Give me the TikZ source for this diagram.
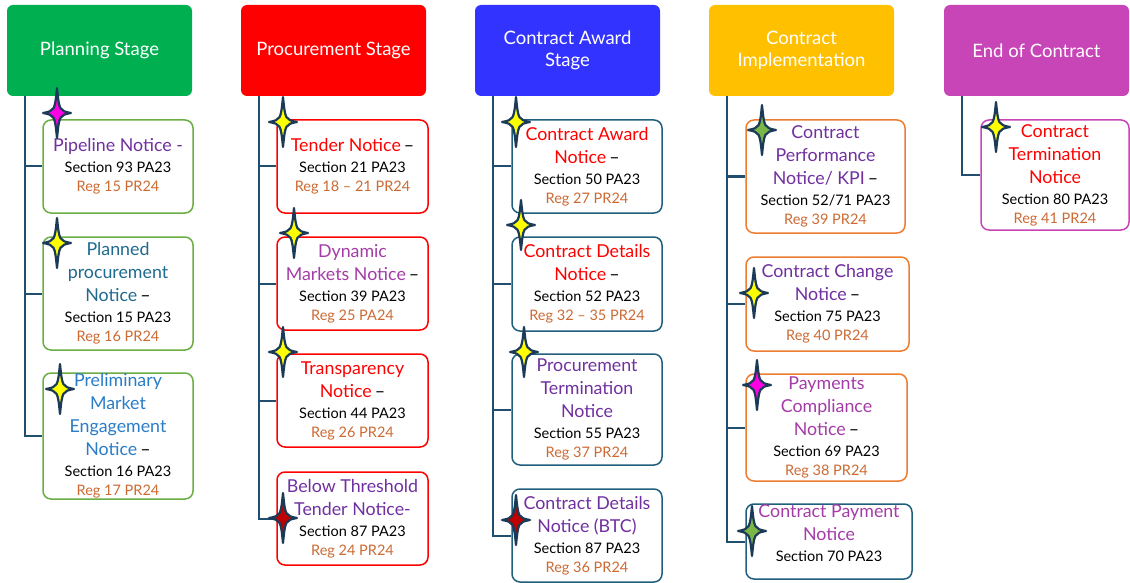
\documentclass[tikz,border=0pt]{standalone}
\usepackage{fontspec}
\setmainfont{Lato}
\definecolor{hgreen}{HTML}{00B050}
\definecolor{hred}{HTML}{FF0000}
\definecolor{hblue}{HTML}{3333FF}
\definecolor{hgold}{HTML}{FFC000}
\definecolor{hmag}{HTML}{C845B8}
\definecolor{connc}{HTML}{1F4E6E}
\definecolor{bgreen}{HTML}{6AAE45}
\definecolor{bteal}{HTML}{215F7E}
\definecolor{borange}{HTML}{ED7D31}
\definecolor{tpurple}{HTML}{7030A0}
\definecolor{tmag}{HTML}{A43CA8}
\definecolor{tteal}{HTML}{1F6A8F}
\definecolor{tblue}{HTML}{2A7CC7}
\definecolor{tred}{HTML}{FF0000}
\definecolor{treg}{HTML}{CC6A33}
\definecolor{starc}{HTML}{1B3A57}
\definecolor{sy}{HTML}{FFFF00}
\definecolor{sm}{HTML}{FF00E6}
\definecolor{sr}{HTML}{C00000}
\definecolor{sg}{HTML}{7AB648}
\newcommand\tl[2]{{\fontsize{17.8}{20}\selectfont\color{#1}#2}}
\newcommand\dsh{{\fontsize{17.8}{20}\selectfont\,–}}
\newcommand\rg[1]{\textcolor{treg}{#1}}
\tikzset{
  hdr/.style={rounded corners=6pt, text=white, align=center, inner sep=0pt,
    minimum width=185pt, minimum height=91pt, font=\fontsize{18.5}{22}\selectfont},
  box/.style={draw, rounded corners=8pt, line width=1.5pt, fill=white, align=center,
    inner sep=0pt, font=\fontsize{14.5}{20}\selectfont},
  conn/.style={draw=connc, line width=2pt},
  sparkle/.pic={\path[fill=#1, draw=starc, line width=2.2pt, line join=round]
    (0,-25) .. controls (2.3,-2.3) .. (14,0) .. controls (2.3,2.3) .. (0,25)
    .. controls (-2.3,2.3) .. (-14,0) .. controls (-2.3,-2.3) .. cycle;}
}
\begin{document}
\begin{tikzpicture}[x=1pt,y=-1pt]
\useasboundingbox (0,0) rectangle (1130,583);
% headers
\node[hdr, fill=hgreen] (hplan) at (99.5,50.5) {Planning Stage};
\node[hdr, fill=hred] (hproc) at (333.5,50.5) {Procurement Stage};
\node[hdr, fill=hblue] (haward) at (567.5,50.5) {Contract Award\\Stage};
\node[hdr, fill=hgold] (himpl) at (801.5,50.5) {Contract\\Implementation};
\node[hdr, fill=hmag] (hend) at (1036.5,50.5) {End of Contract};
% column 1
\node[box, draw=bgreen, minimum width=150pt, minimum height=93pt] (pipe) at (118,166.5)
  {\tl{tpurple}{Pipeline Notice -}\\[1pt] Section 93 PA23\\[-1pt] \rg{Reg 15 PR24}};
\node[box, draw=bgreen, minimum width=150pt, minimum height=113pt] (plan) at (118,293.5)
  {\tl{tteal}{Planned}\\[3pt] \tl{tteal}{procurement}\\[3pt] \tl{tteal}{Notice}\dsh\\[1pt] Section 15 PA23\\[-1pt] \rg{Reg 16 PR24}};
\node[box, draw=bgreen, minimum width=150pt, minimum height=126pt] (prelim) at (118,436)
  {\tl{tblue}{Preliminary}\\[3pt] \tl{tblue}{Market}\\[3pt] \tl{tblue}{Engagement}\\[3pt] \tl{tblue}{Notice}\dsh\\[1pt] Section 16 PA23\\[-1pt] \rg{Reg 17 PR24}};
% column 2
\node[box, draw=hred, minimum width=151pt, minimum height=93pt] (tender) at (352.5,166.5)
  {\tl{tred}{Tender Notice}\dsh\\[1pt] Section 21 PA23\\[-1pt] \rg{Reg 18 – 21 PR24}};
\node[box, draw=hred, minimum width=151pt, minimum height=93pt] (dyn) at (352.5,283.5)
  {\tl{tmag}{Dynamic}\\[3pt] \tl{tmag}{Markets Notice}\dsh\\[1pt] Section 39 PA23\\[-1pt] \rg{Reg 25 PA24}};
\node[box, draw=hred, minimum width=151pt, minimum height=93pt] (trans) at (352.5,400.5)
  {\tl{tred}{Transparency}\\[3pt] \tl{tred}{Notice}\dsh\\[1pt] Section 44 PA23\\[-1pt] \rg{Reg 26 PR24}};
\node[box, draw=hred, minimum width=151pt, minimum height=93pt] (below) at (352.5,518.5)
  {\tl{tpurple}{Below Threshold}\\[3pt] \tl{tpurple}{Tender Notice-}\\[1pt] Section 87 PA23\\[-1pt] \rg{Reg 24 PR24}};
% column 3
\node[box, draw=bteal, minimum width=150pt, minimum height=93pt] (award) at (587,166.5)
  {\tl{tred}{Contract Award}\\[3pt] \tl{tred}{Notice}\dsh\\[1pt] Section 50 PA23\\[-1pt] \rg{Reg 27 PR24}};
\node[box, draw=bteal, minimum width=150pt, minimum height=94pt] (det) at (587,284)
  {\tl{tred}{Contract Details}\\[3pt] \tl{tred}{Notice}\dsh\\[1pt] Section 52 PA23\\[-1pt] \rg{Reg 32 – 35 PR24}};
\node[box, draw=bteal, minimum width=150pt, minimum height=111pt] (pterm) at (587,409.5)
  {\tl{tpurple}{Procurement}\\[3pt] \tl{tpurple}{Termination}\\[3pt] \tl{tpurple}{Notice}\\[1pt] Section 55 PA23\\[-1pt] \rg{Reg 37 PR24}};
\node[box, draw=bteal, minimum width=150pt, minimum height=93pt] (btc) at (587,535.5)
  {\tl{tpurple}{Contract Details}\\[3pt] \tl{tpurple}{Notice (BTC)}\\[1pt] Section 87 PA23\\[-1pt] \rg{Reg 36 PR24}};
% column 4
\node[box, draw=borange, minimum width=159pt, minimum height=113pt] (perf) at (825.5,176.5)
  {\tl{tpurple}{Contract}\\[3pt] \tl{tpurple}{Performance}\\[3pt] \tl{tpurple}{Notice/ KPI}\dsh\\[1pt] Section 52/71 PA23\\[-1pt] \rg{Reg 39 PR24}};
\node[box, draw=borange, minimum width=163pt, minimum height=94pt] (change) at (827.5,304)
  {\tl{tpurple}{Contract Change}\\[3pt] \tl{tpurple}{Notice}\dsh\\[1pt] Section 75 PA23\\[-1pt] \rg{Reg 40 PR24}};
\node[box, draw=borange, minimum width=161pt, minimum height=107pt] (pay) at (826.5,427.5)
  {\tl{tmag}{Payments}\\[3pt] \tl{tmag}{Compliance}\\[3pt] \tl{tmag}{Notice}\dsh\\[1pt] Section 69 PA23\\[-1pt] \rg{Reg 38 PR24}};
\node[box, draw=bteal, minimum width=166pt, minimum height=75pt] (cpay) at (829,541.5)
  {\tl{tmag}{Contract Payment}\\[3pt] \tl{tmag}{Notice}\\[1pt] Section 70 PA23\\[-4pt] \mbox{}};
% column 5
\node[box, draw=hmag, minimum width=148pt, minimum height=110pt] (term) at (1055,175)
  {\tl{tred}{Contract}\\[3pt] \tl{tred}{Termination}\\[3pt] \tl{tred}{Notice}\\[1pt] Section 80 PA23\\[-1pt] \rg{Reg 41 PR24}};
% connectors
\coordinate (c1) at ([xshift=18pt]hplan.south west);
\coordinate (c2) at ([xshift=18pt]hproc.south west);
\coordinate (c3) at ([xshift=18pt]haward.south west);
\coordinate (c4) at ([xshift=18pt]himpl.south west);
\coordinate (c5) at ([xshift=18pt]hend.south west);
\foreach \c/\b in {c1/pipe,c1/plan,c1/prelim,c2/tender,c2/dyn,c2/trans,c2/below,
  c3/award,c3/det,c3/pterm,c3/btc,c4/perf,c4/change,c4/pay,c4/cpay,c5/term}
  \draw[conn] (\c) |- (\b.west);
% sparkles
\pic at (57,113) {sparkle=sm};
\pic at (57,243) {sparkle=sy};
\pic at (60,389) {sparkle=sy};
\pic at (283,122) {sparkle=sy};
\pic at (294,233) {sparkle=sy};
\pic at (283,352) {sparkle=sy};
\pic at (283,518) {sparkle=sr};
\pic at (516,122) {sparkle=sy};
\pic at (521,225) {sparkle=sy};
\pic at (524,352) {sparkle=sy};
\pic at (516,520) {sparkle=sr};
\pic at (762,130) {sparkle=sg};
\pic at (754,293) {sparkle=sy};
\pic at (757,385) {sparkle=sm};
\pic at (752,531) {sparkle=sg};
\pic at (996,127) {sparkle=sy};
\end{tikzpicture}
\end{document}
